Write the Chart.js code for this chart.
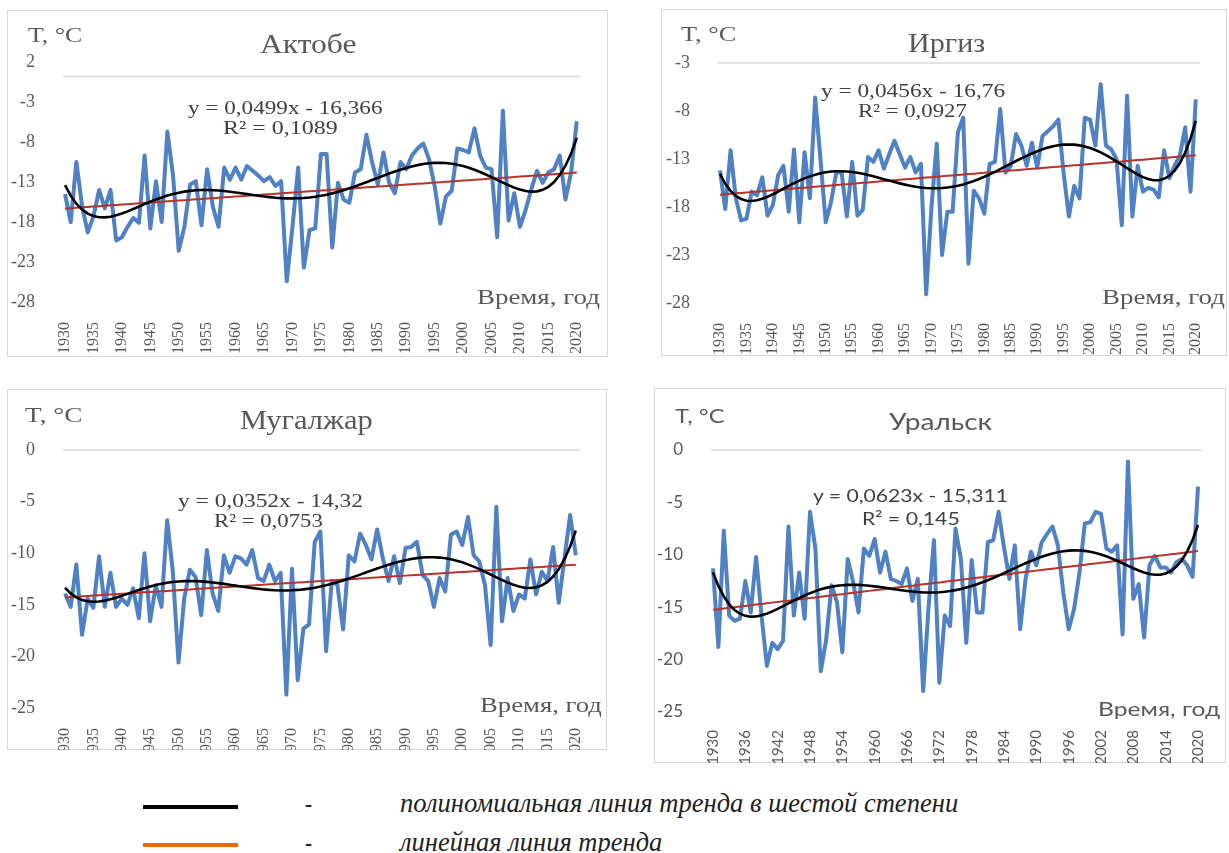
<!DOCTYPE html>
<html>
<head>
<meta charset="utf-8">
<script src="https://cdn.jsdelivr.net/npm/chart.js@4.4.0/dist/chart.umd.min.js"></script>
<style>
  body { margin: 0; background: #fff; width: 1229px; height: 853px; position: relative; overflow: hidden; }
  .box { position: absolute; border: 1.5px solid #d6d6d6; box-sizing: border-box; }
  canvas { position: absolute; }
  .lbl { position: absolute; white-space: nowrap; line-height: 1; transform-origin: 0 50%; }
  .bar { position: absolute; height: 4px; }
</style>
</head>
<body>

<script>
// --- data: mean winter temperature, 1930-2020 ---
const years = Array.from({ length: 91 }, (_, i) => String(1930 + i));

const aktobe = [
  -14.5, -18, -10.5, -16, -19.3, -17.3, -14, -16.3, -14, -20.3,
  -19.9, -18.6, -17.5, -18.1, -9.7, -18.8, -12.9, -18, -6.7, -12.2,
  -21.6, -18.6, -13.3, -12.9, -18.4, -11.4, -16.1, -18.6, -11.2, -12.7,
  -11.2, -12.7, -11, -11.6, -12.2, -12.9, -12.4, -13.5, -12.9, -25.4,
  -18.6, -11.2, -23.7, -19, -18.8, -9.5, -9.5, -21.2, -13.1, -15.2,
  -15.6, -11.8, -11.4, -7.1, -10.5, -13.3, -9.3, -13.1, -14.4, -10.5,
  -11.4, -9.7, -8.8, -8.2, -10.1, -13.5, -18.2, -14.8, -14.1, -8.8,
  -9, -9.3, -6.3, -9.7, -11.2, -11.4, -19.9, -4.1, -17.8, -14.4,
  -18.6, -16.5, -13.9, -11.6, -13.1, -11.8, -11.4, -9.7, -15.2, -11.8,
  -5.4
];
const irgiz = [
  -14.2, -18.2, -12.1, -17.1, -19.4, -19.2, -16.4, -16.8, -14.9, -18.9,
  -17.8, -14.7, -13.7, -18.5, -12, -19.6, -12.3, -17.1, -6.6, -13,
  -19.6, -17.5, -14.4, -14.4, -19, -13.3, -18.9, -18.3, -12.8, -13.3,
  -12.1, -14, -12.5, -11.1, -12.5, -13.9, -12.8, -14.4, -13.5, -27.1,
  -18, -11.4, -23, -18.5, -18.5, -10.2, -8.7, -23.9, -16.3, -17.1,
  -18.7, -13.5, -13.3, -7.8, -14.4, -13.7, -10.4, -11.6, -13.7, -11.3,
  -13.9, -10.6, -10.1, -9.6, -8.9, -14.5, -19, -15.8, -17.1, -8.7,
  -8.9, -11.6, -5.2, -11.6, -12, -13, -19.9, -6.4, -19, -13.7,
  -16.4, -16, -16.2, -17, -12.1, -15, -13.7, -12.6, -9.7, -16.4,
  -6.8
];
const mugalzhar = [
  -13.9, -15.2, -11.1, -17.9, -14.4, -15.3, -10.3, -15.2, -11.9, -15.2,
  -14.4, -15, -13.4, -16.3, -10, -16.6, -13.1, -15.2, -6.8, -11.8,
  -20.6, -14.4, -11.6, -12.3, -16, -9.7, -13.9, -15.6, -10.2, -11.9,
  -10.3, -10.5, -11.1, -9.7, -12.4, -12.7, -11.1, -12.7, -11.9, -23.7,
  -11.5, -22.3, -17.3, -16.9, -8.9, -7.9, -19.5, -12.7, -13.1, -17.4,
  -10.2, -10.8, -8.1, -9.2, -10.6, -7.7, -10.5, -12.7, -10.3, -12.9,
  -9.5, -9.4, -8.9, -12.1, -12.7, -15.2, -12.4, -13.7, -8.2, -7.9,
  -9.2, -6.5, -10.2, -10.8, -13.1, -18.9, -5.5, -16.6, -12.4, -15.6,
  -14, -14.4, -10.6, -14, -11.8, -12.7, -9.4, -14.8, -10.5, -6.3,
  -10.2
];
const uralsk = [
  -11.3, -18.8, -7.7, -15.8, -16.3, -16.1, -12.5, -15.5, -10.2, -15.8,
  -20.6, -18.4, -19, -18.2, -7.3, -15.8, -11.7, -16.1, -5.9, -9.4,
  -21.1, -18.1, -12.9, -14.5, -19.3, -10.4, -12.6, -15.5, -9.4, -10.1,
  -8.5, -11.7, -9.7, -12.3, -12.5, -12.8, -11.3, -14.4, -12.3, -23,
  -15, -8.6, -22.2, -15.8, -16.8, -7.5, -10.4, -18.4, -10.5, -15.5,
  -15.5, -8.8, -8.6, -5.9, -9.3, -12.3, -9.1, -17.1, -12.3, -9.7,
  -11, -8.8, -8, -7.3, -9.1, -13.6, -17.1, -15.2, -11.7, -7,
  -6.9, -5.9, -6.1, -9.4, -9.7, -9.1, -17.6, -1.1, -14.2, -12.8,
  -17.9, -11, -10.1, -11.2, -11.2, -11.7, -10.7, -10.4, -11, -12.1,
  -3.5
];

// linear trend equations shown on the charts: y = a*x + b, x = 1..91
const linAktobe = [0.0499, -16.366];
const linIrgiz = [0.0456, -16.76];
const linMugalzhar = [0.0352, -14.32];
const linUralsk = [0.0623, -15.311];

const BLUE = '#4f81c4';
const RED = '#b5342b';
const TICK = '#595959';
const SERIF = '"Liberation Serif", "Times New Roman", serif';
const SANS = 'Lato, "Open Sans", sans-serif';

// least squares polynomial (Excel "polynomial trendline")
function polyFit(vals, deg) {
  const n = vals.length;
  const xs = vals.map((_, i) => (2 * i) / (n - 1) - 1);
  const m = deg + 1;
  const A = Array.from({ length: m }, () => new Array(m + 1).fill(0));
  for (let i = 0; i < n; i++) {
    const p = [];
    for (let k = 0; k < m; k++) p.push(Math.pow(xs[i], k));
    for (let r = 0; r < m; r++) {
      for (let c = 0; c < m; c++) A[r][c] += p[r] * p[c];
      A[r][m] += p[r] * vals[i];
    }
  }
  for (let c = 0; c < m; c++) {
    let piv = c;
    for (let r = c + 1; r < m; r++) if (Math.abs(A[r][c]) > Math.abs(A[piv][c])) piv = r;
    [A[c], A[piv]] = [A[piv], A[c]];
    for (let r = 0; r < m; r++) {
      if (r === c) continue;
      const f = A[r][c] / A[c][c];
      for (let k = c; k <= m; k++) A[r][k] -= f * A[c][k];
    }
  }
  const coef = A.map((row, i) => row[m] / row[i]);
  return xs.map(x => coef.reduce((s, a, k) => s + a * Math.pow(x, k), 0));
}

const topLine = {
  id: 'topLine',
  beforeDatasetsDraw(chart, args, opts) {
    const { ctx, chartArea } = chart;
    const y = chart.scales.y.getPixelForValue(opts.value);
    ctx.save();
    ctx.strokeStyle = '#d9d9d9';
    ctx.lineWidth = 1.5;
    ctx.beginPath();
    ctx.moveTo(chartArea.left - 2, y);
    ctx.lineTo(chartArea.right + 4, y);
    ctx.stroke();
    ctx.restore();
  }
};

function addBox(b) {
  const d = document.createElement('div');
  d.className = 'box';
  Object.assign(d.style, { left: b[0] + 'px', top: b[1] + 'px', width: b[2] + 'px', height: b[3] + 'px' });
  document.body.appendChild(d);
}

function makeChart(values, lin, o) {
  addBox(o.box);
  const cv = document.createElement('canvas');
  cv.width = o.box[2];
  cv.height = o.box[3];
  cv.style.left = o.box[0] + 'px';
  cv.style.top = o.box[1] + 'px';
  cv.style.width = o.box[2] + 'px';
  cv.style.height = o.box[3] + 'px';
  document.body.appendChild(cv);

  const linear = values.map((_, i) => lin[0] * (i + 1) + lin[1]);
  const poly = polyFit(values, 6);

  new Chart(cv, {
    type: 'line',
    data: {
      labels: years,
      datasets: [
        { data: values, borderColor: BLUE, borderWidth: 4, pointRadius: 0, order: 3, borderJoinStyle: 'round' },
        { data: linear, borderColor: RED, borderWidth: 2, pointRadius: 0, order: 2 },
        { data: poly, borderColor: '#000', borderWidth: 2.6, pointRadius: 0, order: 1 }
      ]
    },
    options: {
      responsive: false,
      animation: false,
      layout: { padding: { top: o.top, right: o.right, left: 0, bottom: 0 } },
      plugins: { legend: { display: false }, tooltip: { enabled: false }, topLine: { value: o.gridAt } },
      scales: {
        x: {
          grid: { display: false }, border: { display: false },
          ticks: {
            autoSkip: false, maxRotation: 90, minRotation: 90, padding: o.xpad,
            font: { family: o.font, size: o.xfs }, color: TICK,
            callback: function (v, i) { return i % o.step === 0 ? this.getLabelForValue(v) : null; }
          },
          afterFit: s => { s.height = o.xh; }
        },
        y: {
          min: o.min, max: o.max,
          grid: { display: false }, border: { display: false },
          ticks: { stepSize: 5, padding: 22, font: { family: o.font, size: o.yfs }, color: TICK },
          afterFit: s => { s.width = o.yw; }
        }
      }
    },
    plugins: [topLine]
  });
}

makeChart(aktobe, linAktobe, { box: [7, 10, 601, 347], yw: 58, top: 52, right: 13, xh: 55, xpad: 12,
  min: -28, max: 2, gridAt: 0.2, step: 5, font: SERIF, xfs: 16, yfs: 18 });
makeChart(irgiz, linIrgiz, { box: [661, 9, 566, 347], yw: 59, top: 54, right: 14, xh: 53, xpad: 12,
  min: -28, max: -3, gridAt: -3, step: 5, font: SERIF, xfs: 16, yfs: 18 });
makeChart(mugalzhar, linMugalzhar, { box: [7, 389, 600, 361], yw: 58, top: 61, right: 12, xh: 42, xpad: 12,
  min: -25, max: 0, gridAt: 0, step: 5, font: SERIF, xfs: 16, yfs: 18 });
makeChart(uralsk, linUralsk, { box: [654, 388, 572, 375], yw: 59, top: 62, right: 13, xh: 51, xpad: 10,
  min: -25, max: 0, gridAt: 0, step: 6, font: SANS, xfs: 15, yfs: 17 });

// text: [text, anchor x, centre y, target width, size, family, align, colour, italic]
const texts = [
  ['T, °C', 28, 35, 54, 22, SERIF, 'left', '#595959'],
  ['Актобе', 308, 44, 97, 27, SERIF, 'center', '#595959'],
  ['y = 0,0499x - 16,366', 285, 107, 195, 19, SERIF, 'center', '#404040'],
  ['R² = 0,1089', 280, 127, 115, 19, SERIF, 'center', '#404040'],
  ['Время, год', 600, 297, 123, 21, SERIF, 'right', '#595959'],

  ['T, °C', 681, 34, 55, 22, SERIF, 'left', '#595959'],
  ['Иргиз', 946, 43, 77, 27, SERIF, 'center', '#595959'],
  ['y = 0,0456x - 16,76', 913, 90, 184, 19, SERIF, 'center', '#404040'],
  ['R² = 0,0927', 912, 110, 109, 19, SERIF, 'center', '#404040'],
  ['Время, год', 1225, 297, 123, 21, SERIF, 'right', '#595959'],

  ['T, °C', 25, 415, 57, 22, SERIF, 'left', '#595959'],
  ['Мугалжар', 306, 420, 133, 27, SERIF, 'center', '#595959'],
  ['y = 0,0352x - 14,32', 270, 500, 185, 19, SERIF, 'center', '#404040'],
  ['R² = 0,0753', 268, 520, 109, 19, SERIF, 'center', '#404040'],
  ['Время, год', 602, 705, 122, 21, SERIF, 'right', '#595959'],

  ['T, °C', 675, 415, 50, 20, SANS, 'left', '#595959'],
  ['Уральск', 940, 421, 103, 24, SANS, 'center', '#595959'],
  ['y = 0,0623x - 15,311', 910, 495, 195, 18, SANS, 'center', '#404040'],
  ['R² = 0,145', 911, 518, 98, 18, SANS, 'center', '#404040'],
  ['Время, год', 1220, 708, 122, 19, SANS, 'right', '#595959'],

  ['-', 308, 803, 7, 27, SERIF, 'center', '#222', true],
  ['полиномиальная линия тренда в шестой степени', 400, 803, 558, 27, SERIF, 'left', '#222', true],
  ['-', 308, 842, 7, 27, SERIF, 'center', '#222', true],
  ['линейная линия тренда', 400, 842, 262, 27, SERIF, 'left', '#222', true]
];

texts.forEach(([t, x, y, w, size, fam, align, col, it]) => {
  const el = document.createElement('div');
  el.className = 'lbl';
  el.textContent = t;
  Object.assign(el.style, { fontFamily: fam, fontSize: size + 'px', color: col, fontStyle: it ? 'italic' : 'normal' });
  document.body.appendChild(el);
  const nat = el.offsetWidth;
  const k = w / nat;
  const left = align === 'center' ? x - w / 2 : align === 'right' ? x - w : x;
  el.style.left = left + 'px';
  el.style.top = (y - el.offsetHeight / 2) + 'px';
  el.style.transform = 'scaleX(' + k.toFixed(3) + ')';
});

// legend swatches
[[143, 807, '#000'], [143, 845, '#e46c0a']].forEach(([x, y, c]) => {
  const b = document.createElement('div');
  b.className = 'bar';
  Object.assign(b.style, { left: x + 'px', top: (y - 2) + 'px', width: '95px', background: c });
  document.body.appendChild(b);
});
</script>
</body>
</html>
